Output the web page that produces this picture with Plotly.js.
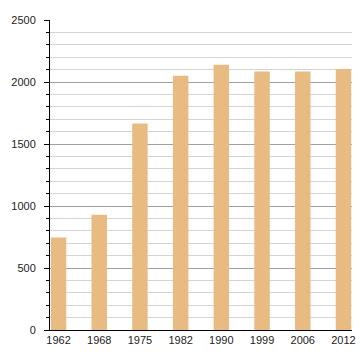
<!DOCTYPE html>
<html>
<head>
<meta charset="utf-8">
<script src="https://cdn.plot.ly/plotly-3.0.1.min.js"></script>
<style>html,body{margin:0;padding:0;background:#fff;}#chart{width:360px;height:360px;}</style>
</head>
<body>
<div id="chart"></div>
<script>
const years = ['1962', '1968', '1975', '1982', '1990', '1999', '2006', '2012'];
const population = [745, 930, 1665, 2050, 2140, 2085, 2085, 2105];
const yTicks = [0, 500, 1000, 1500, 2000, 2500];

const trace = {
  type: 'bar',
  x: years,
  y: population,
  width: 0.38,
  marker: {color: '#E8BB82', line: {width: 0}},
  hoverinfo: 'x+y'
};

const layout = {
  width: 360,
  height: 360,
  margin: {l: 50, r: 8, t: 20, b: 30},
  paper_bgcolor: '#fff',
  plot_bgcolor: '#fff',
  showlegend: false,
  font: {family: 'Liberation Sans, Arial, sans-serif', size: 11, color: '#222'},
  xaxis: {
    type: 'category',
    range: [-0.21, 7.21],
    showgrid: false,
    showline: true,
    linecolor: '#000',
    linewidth: 1,
    ticks: '',
    tickfont: {size: 11, color: '#222'},
    fixedrange: true,
    zeroline: false
  },
  yaxis: {
    range: [0, 2500],
    tickvals: yTicks,
    ticktext: yTicks.map(String),
    showgrid: true,
    gridcolor: '#a0a0a0',
    gridwidth: 1,
    showline: true,
    linecolor: '#000',
    linewidth: 1,
    ticks: 'outside',
    ticklen: 5,
    tickcolor: '#000',
    ticklabelstandoff: 6,
    zeroline: false,
    tickfont: {size: 11, color: '#222'},
    minor: {dtick: 100, showgrid: true, gridcolor: '#d4d4d4', gridwidth: 1, ticks: 'outside', ticklen: 3, tickcolor: '#000'},
    fixedrange: true
  }
};

Plotly.newPlot('chart', [trace], layout, {displayModeBar: false, staticPlot: true});
</script>
</body>
</html>
